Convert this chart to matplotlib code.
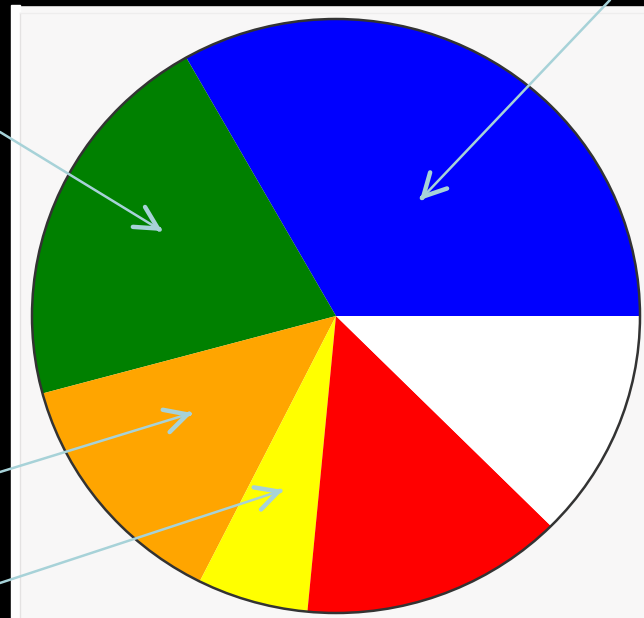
import matplotlib
matplotlib.use("Agg")
import matplotlib.pyplot as plt
from matplotlib.patches import Rectangle, Ellipse

# ---- data (percent shares, counter-clockwise from 3 o'clock) ----
categories = ["Blue", "Green", "Orange", "Yellow", "Red", "White"]
values = [33.2, 21.0, 13.4, 5.9, 14.0, 12.5]
colors = ["#0000ff", "#008000", "#ffa500", "#ffff00", "#ff0000", "#ffffff"]

W, H = 644, 618
fig = plt.figure(figsize=(W / 100, H / 100), dpi=100)
fig.patch.set_facecolor("#f8f7f7")

# background axes in image pixel coords (y down)
bg = fig.add_axes([0, 0, 1, 1], zorder=0)
bg.set_xlim(0, W)
bg.set_ylim(H, 0)
bg.axis("off")
bg.add_patch(Rectangle((0, 0), W, 5, color="black"))
bg.add_patch(Rectangle((0, 0), 11, H, color="black"))
bg.add_patch(Rectangle((11, 5), 9, H, color="#fdfdfd"))
bg.plot([20, 20], [13, H], color="#e4e2e2", lw=1)
bg.plot([20, W], [13, 13], color="#eeeded", lw=1)

# pie axes (slightly elliptical like the reference)
cx, cy = 336, 316          # centre in image pixels
rx, ry = 304, 297           # radii in pixels
pa = fig.add_axes([0, 0, 1, 1], zorder=1)
pa.patch.set_alpha(0)
yscale = rx / ry
pa.pie(values, colors=colors, startangle=0, counterclock=True,
       center=(cx, (H - cy) * yscale), radius=rx,
       wedgeprops=dict(linewidth=0, edgecolor="none", antialiased=True))
pa.set_aspect("auto")
pa.set_xlim(0, W)
pa.set_ylim(0, H * yscale)
pa.axis("off")

# outer outline
ov = fig.add_axes([0, 0, 1, 1], zorder=2)
ov.patch.set_alpha(0)
ov.set_xlim(0, W)
ov.set_ylim(H, 0)
ov.axis("off")
ov.add_patch(Ellipse((cx, cy), 2 * rx, 2 * ry, fill=False,
                     edgecolor="#333333", lw=1.8))

# pointer arrows (start -> tip, image pixels)
arrows = [((0, 132), (162, 231)),
          ((0, 472), (192, 413)),
          ((0, 583), (283, 490)),
          ((610, 0), (420, 200))]
acol = "#a7d2d8"
for (sx, sy), (tx, ty) in arrows:
    # shaft
    ov.annotate("", xy=(tx, ty), xytext=(sx, sy),
                xycoords="data", textcoords="data", annotation_clip=False,
                arrowprops=dict(arrowstyle="-", color=acol, lw=1.8,
                                shrinkA=0, shrinkB=3))
    # thicker open head
    dx, dy = tx - sx, ty - sy
    n = (dx * dx + dy * dy) ** 0.5
    ov.annotate("", xy=(tx, ty), xytext=(tx - 3 * dx / n, ty - 3 * dy / n),
                xycoords="data", textcoords="data", annotation_clip=False,
                arrowprops=dict(arrowstyle="->,head_length=0.8,head_width=0.42",
                                color=acol, lw=3.2, mutation_scale=20,
                                shrinkA=0, shrinkB=0))

fig.savefig("out.png", dpi=100, facecolor=fig.get_facecolor())
